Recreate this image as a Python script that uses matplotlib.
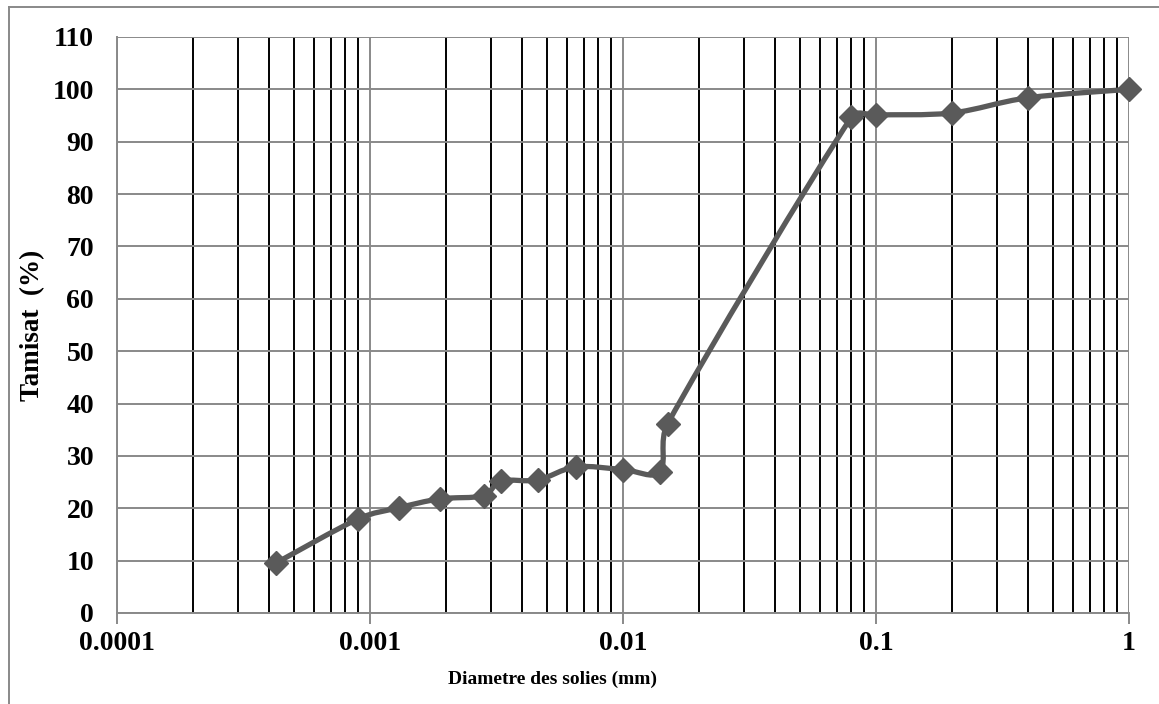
import numpy as np
import matplotlib
matplotlib.use("Agg")
import matplotlib.pyplot as plt
from matplotlib.path import Path
from matplotlib.patches import PathPatch
from matplotlib.lines import Line2D
from matplotlib.ticker import FixedLocator, NullFormatter

# grain size data
diametre = [0.000427, 0.00090, 0.00130, 0.00189, 0.00281, 0.00330, 0.00460,
            0.00650, 0.0100, 0.0140, 0.0150, 0.080, 0.100, 0.200, 0.400, 1.0]
tamisat = [9.6, 18.0, 20.1, 21.8, 22.4, 25.2, 25.4, 27.9, 27.4, 26.9, 36.1,
           94.7, 95.1, 95.5, 98.4, 100.0]
x_ticks = [0.0001, 0.001, 0.01, 0.1, 1]
x_tick_labels = ["0.0001", "0.001", "0.01", "0.1", "1"]
y_ticks = list(range(0, 111, 10))

plt.rcParams['font.family'] = ['Liberation Serif', 'DejaVu Serif']
plt.rcParams['font.weight'] = 'bold'

fig = plt.figure(figsize=(11.59, 7.04), dpi=100)
ax = fig.add_axes([117 / 1159, 1 - 613 / 704, (1129 - 117) / 1159, (613 - 37) / 704])

ax.set_xscale('log')
ax.set_xlim(0.0001, 1)
ax.set_ylim(0, 110)

# minor grid (black), major grid (grey)
minors = [m * 10.0 ** e for e in range(-4, 0) for m in range(2, 10)]
ax.xaxis.set_minor_locator(FixedLocator(minors))
ax.xaxis.set_minor_formatter(NullFormatter())
ax.set_xticks(x_ticks)
ax.set_xticklabels(x_tick_labels)
ax.set_yticks(y_ticks)
ax.grid(True, which='minor', axis='x', color='black', lw=1.4, zorder=1)
ax.grid(True, which='major', axis='both', color='#898989', lw=1.4, zorder=1)
ax.set_axisbelow(True)
ax.tick_params(axis='x', which='major', length=8, width=1.4, color='#898989',
               labelsize=20, pad=5)
ax.tick_params(axis='x', which='minor', length=0)
ax.tick_params(axis='y', length=0, labelsize=20, pad=16.5)
for s in ['top', 'right']:
    ax.spines[s].set_visible(False)
for s in ['left', 'bottom']:
    ax.spines[s].set_color('#898989')
    ax.spines[s].set_linewidth(1.4)

# smoothed line: cardinal spline in pixel-like space, arms clamped to avoid overshoot
sx, sy = 253.0, 5.23
pts = np.column_stack([np.log10(diametre) * sx, np.array(tamisat) * sy])
n = len(pts)
verts = [pts[0]]
codes = [Path.MOVETO]
for i in range(n - 1):
    p0 = pts[i - 1] if i > 0 else pts[i]
    p1 = pts[i]
    p2 = pts[i + 1]
    p3 = pts[i + 2] if i + 2 < n else pts[i + 1]
    seg = np.hypot(*(p2 - p1))
    a1 = (p2 - p0) / 6.0
    a2 = (p3 - p1) / 6.0
    lim = 0.4 * seg
    if np.hypot(*a1) > lim:
        a1 = a1 / np.hypot(*a1) * lim
    if np.hypot(*a2) > lim:
        a2 = a2 / np.hypot(*a2) * lim
    verts += [p1 + a1, p2 - a2, p2]
    codes += [Path.CURVE4] * 3
verts = np.array(verts)
verts = np.column_stack([10 ** (verts[:, 0] / sx), verts[:, 1] / sy])
ax.add_patch(PathPatch(Path(verts, codes), fill=False, edgecolor='#5a5a5a',
                       lw=3.8, zorder=3, capstyle='round', joinstyle='round'))
ax.plot(diametre, tamisat, ls='none', marker='D', ms=12, color='#5a5a5a',
        zorder=4, clip_on=False)

ax.set_xlabel("Diametre des solies (mm)", fontsize=14, fontweight='bold', va='center')
ax.xaxis.set_label_coords(0.43, -0.1146)
ax.set_ylabel("Tamisat  (%)", fontsize=19.5, fontweight='bold', va='center')
ax.yaxis.set_label_coords(-0.083, 0.5)

# outer chart frame
fig.add_artist(Line2D([9 / 1159, 9 / 1159], [0, 1 - 7 / 704], color='#898989', lw=1.4))
fig.add_artist(Line2D([9 / 1159, 1], [1 - 7 / 704, 1 - 7 / 704], color='#898989', lw=1.4))

fig.savefig("out.png", dpi=100)
